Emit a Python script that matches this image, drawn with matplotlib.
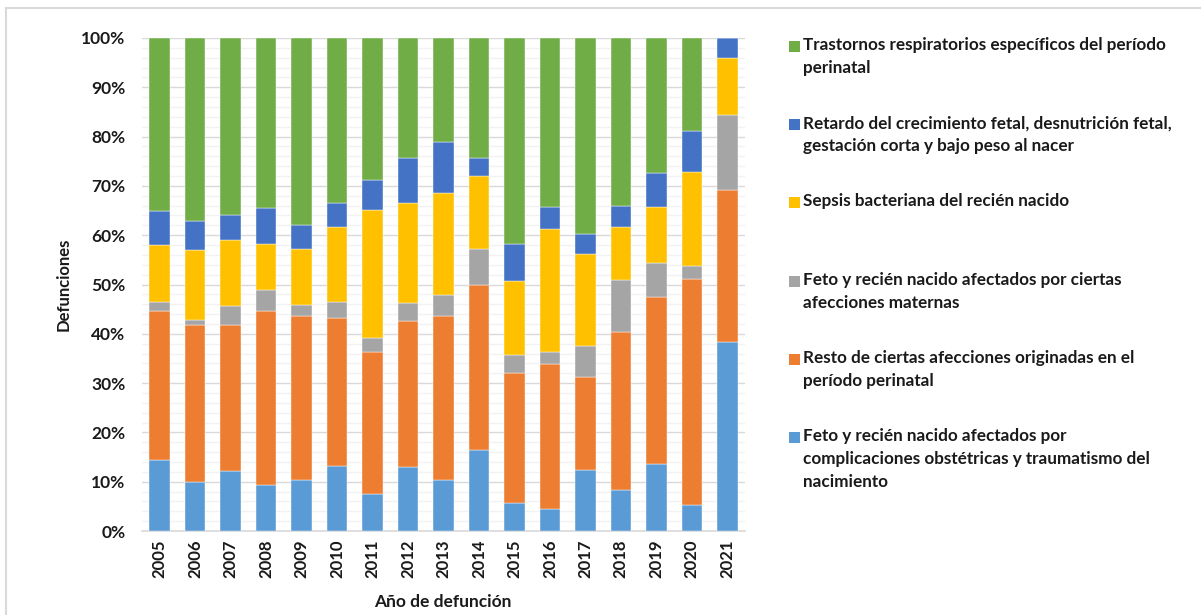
import matplotlib
matplotlib.use("Agg")
import matplotlib.pyplot as plt
from matplotlib.lines import Line2D
from matplotlib.patches import Rectangle
from matplotlib.ticker import MultipleLocator, PercentFormatter
import numpy as np

plt.rcParams['font.family'] = ['Lato', 'DejaVu Sans']

years = ['2005', '2006', '2007', '2008', '2009', '2010', '2011', '2012', '2013',
         '2014', '2015', '2016', '2017', '2018', '2019', '2020', '2021']

# shares (%) per cause, bottom to top
complicaciones = [14.4, 9.9, 12.2, 9.3, 10.3, 13.2, 7.5, 13.0, 10.3, 16.5, 5.6, 4.4, 12.3, 8.4, 13.5, 5.3, 38.3]
resto = [30.2, 31.9, 29.6, 35.4, 33.3, 30.0, 28.8, 29.5, 33.3, 33.4, 26.4, 29.5, 18.9, 31.9, 34.0, 45.9, 30.8]
maternas = [1.9, 1.0, 3.8, 4.1, 2.2, 3.3, 2.9, 3.7, 4.2, 7.3, 3.7, 2.4, 6.3, 10.7, 6.9, 2.7, 15.3]
sepsis = [11.6, 14.1, 13.5, 9.4, 11.5, 15.1, 25.9, 20.3, 20.8, 14.8, 15.1, 24.9, 18.7, 10.7, 11.4, 19.1, 11.6]
retardo = [6.9, 5.9, 5.0, 7.3, 4.7, 4.9, 6.0, 9.2, 10.3, 3.7, 7.5, 4.6, 4.0, 4.2, 6.8, 8.2, 4.0]
respiratorios = [35.0, 37.2, 35.9, 34.5, 38.0, 33.5, 28.9, 24.3, 21.1, 24.3, 41.7, 34.2, 39.8, 34.1, 27.4, 19.0, 0.0]

labels = [
    'Feto y recién nacido afectados por\ncomplicaciones obstétricas y traumatismo del\nnacimiento',
    'Resto de ciertas afecciones originadas en el\nperíodo perinatal',
    'Feto y recién nacido afectados por ciertas\nafecciones maternas',
    'Sepsis bacteriana del recién nacido',
    'Retardo del crecimiento fetal, desnutrición fetal,\ngestación corta y bajo peso al nacer',
    'Trastornos respiratorios específicos del período\nperinatal',
]
colors = ['#5B9BD5', '#ED7D31', '#A5A5A5', '#FFC000', '#4472C4', '#70AD47']
series = [complicaciones, resto, maternas, sepsis, retardo, respiratorios]

W, H = 1201, 615
fig = plt.figure(figsize=(W / 100, H / 100), dpi=100)
ax = fig.add_axes([142 / W, (H - 531) / H, (745 - 142) / W, (531 - 38) / H])

data = np.array(series, dtype=float)
totals = data.sum(axis=0)
pct = data / totals * 100
x = np.arange(len(years))
bottom = np.zeros(len(years))
for vals, c in zip(pct, colors):
    ax.bar(x, vals, bottom=bottom, width=0.58, color=c, edgecolor='white',
           linewidth=0.3, zorder=3)
    bottom += vals

ax.set_xlim(-0.5, len(years) - 0.5)
ax.set_ylim(0, 100)
ax.yaxis.set_major_locator(MultipleLocator(10))
ax.yaxis.set_minor_locator(MultipleLocator(2))
ax.yaxis.set_major_formatter(PercentFormatter(decimals=0))
ax.grid(axis='y', which='major', color='#D9D9D9', linewidth=1.0, zorder=0)
ax.grid(axis='y', which='minor', color='#F2F2F2', linewidth=1.0, zorder=0)
ax.set_xticks(x)
ax.set_xticklabels(years, rotation=90, fontsize=12, fontweight='bold', color='#1a1a1a')
ax.tick_params(axis='y', which='both', length=0, pad=12, labelsize=12.5)
ax.tick_params(axis='x', length=0, pad=6)
for t in ax.get_yticklabels():
    t.set_fontweight('bold')
    t.set_color('#1a1a1a')
for s in ['top', 'right', 'left']:
    ax.spines[s].set_visible(False)
ax.spines['bottom'].set_color('#D9D9D9')
ax.spines['bottom'].set_linewidth(1.2)

ax.set_ylabel('Defunciones', fontsize=12, fontweight='bold', labelpad=7, color='#1a1a1a')
fig.text(443 / W, 1 - 602 / H, 'Año de defunción', fontsize=12.5, fontweight='bold',
         ha='center', va='center', color='#1a1a1a')

# Legend (manual, top to bottom: respiratorios first)
order = list(range(len(labels)))[::-1]
for i, k in enumerate(order):
    ytop = 37 + 78.2 * i
    fig.patches.append(Rectangle((789 / W, 1 - (ytop + 15) / H), 11 / W, 11 / H,
                                 transform=fig.transFigure, facecolor=colors[k],
                                 edgecolor='none'))
    fig.text(803 / W, 1 - ytop / H, labels[k], fontsize=12.3, fontweight='bold',
             ha='left', va='top', linespacing=1.55, color='#1a1a1a')

# outer border
fig.add_artist(Line2D([6 / W, 6 / W], [0, 1 - 8 / H], transform=fig.transFigure,
                      color='#D9D9D9', linewidth=1.5))
fig.add_artist(Line2D([6 / W, 1], [1 - 8 / H, 1 - 8 / H], transform=fig.transFigure,
                      color='#D9D9D9', linewidth=1.5))

fig.savefig('out.png', dpi=100)
